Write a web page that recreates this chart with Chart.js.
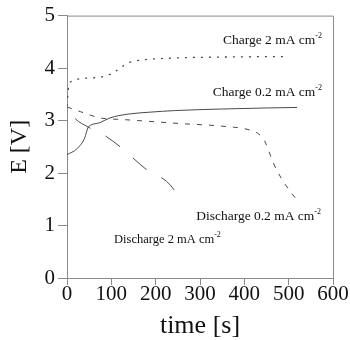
<!DOCTYPE html>
<html>
<head>
<meta charset="utf-8">
<script src="https://cdn.jsdelivr.net/npm/chart.js@4/dist/chart.umd.min.js"></script>
<style>
  html, body { margin: 0; padding: 0; background: #fff; }
  #wrap { width: 350px; height: 340px; }
</style>
</head>
<body>
<div id="wrap"><canvas id="chart"></canvas></div>
<script>
// time [s] / potential [V]
const charge2T = [0, 2, 5, 52, 97, 120, 135, 165, 239, 350, 492];
const charge2V = [3.28, 3.5, 3.72, 3.81, 3.88, 4.0, 4.09, 4.15, 4.19, 4.21, 4.22];

const charge02T = [0, 22, 40, 47, 53, 74, 97, 135, 187, 243, 350, 450, 519];
const charge02V = [2.35, 2.46, 2.67, 2.86, 2.91, 2.96, 3.05, 3.12, 3.16, 3.19, 3.22, 3.24, 3.25];

const discharge02T = [0, 30, 75, 125, 210, 260, 340, 413, 430, 440, 447, 456, 465, 476, 494, 519];
const discharge02V = [3.26, 3.17, 3.05, 3.02, 2.97, 2.94, 2.90, 2.82, 2.76, 2.68, 2.59, 2.40, 2.20, 2.01, 1.76, 1.48];

const discharge2T = [0, 18, 47, 86, 120, 151, 185, 217, 232, 246];
const discharge2V = [3.25, 3.04, 2.88, 2.71, 2.50, 2.27, 2.03, 1.89, 1.78, 1.63];

const xTicks = [0, 100, 200, 300, 400, 500, 600];
const yTicks = [0, 1, 2, 3, 4, 5];

const serif = "'Liberation Serif', 'Times New Roman', serif";
const axisGray = "#8a8a8a";
const lineGray = "#4a4a4a";

const pts = (ts, vs) => ts.map((t, i) => ({ x: t, y: vs[i] }));

// curve labels, anchored in data units (right edge, baseline)
const curveLabels = [
  { text: "Charge 2 mA cm", sup: "-2", x: 575, y: 4.45, size: 13.5 },
  { text: "Charge 0.2 mA cm", sup: "-2", x: 575, y: 3.47, size: 13.5 },
  { text: "Discharge 0.2 mA cm", sup: "-2", x: 573, y: 1.10, size: 13.5 },
  { text: "Discharge 2 mA cm", sup: "-2", x: 347, y: 0.66, size: 12.5 }
];

const framePlugin = {
  id: "frame",
  afterDraw(chart) {
    const { ctx, chartArea: a } = chart;
    ctx.save();
    ctx.strokeStyle = axisGray;
    ctx.lineWidth = 1;
    ctx.beginPath();
    ctx.moveTo(a.left, a.top + 0.5);
    ctx.lineTo(a.right + 0.5, a.top + 0.5);
    ctx.lineTo(a.right + 0.5, a.bottom);
    ctx.stroke();
    ctx.restore();
  }
};

const labelPlugin = {
  id: "curveLabels",
  afterDatasetsDraw(chart) {
    const { ctx, scales } = chart;
    ctx.save();
    ctx.fillStyle = "#111";
    ctx.textBaseline = "alphabetic";
    curveLabels.forEach(l => {
      const right = scales.x.getPixelForValue(l.x);
      const base = scales.y.getPixelForValue(l.y);
      const main = l.size + "px " + serif;
      const small = Math.round(l.size * 0.6) + "px " + serif;
      ctx.font = main;
      const w1 = ctx.measureText(l.text).width;
      ctx.font = small;
      const w2 = ctx.measureText(l.sup).width;
      const left = right - w1 - w2;
      ctx.font = main;
      ctx.fillText(l.text, left, base);
      ctx.font = small;
      ctx.fillText(l.sup, left + w1, base - 6);
    });
    ctx.restore();
  }
};

new Chart(document.getElementById("chart"), {
  type: "scatter",
  data: {
    datasets: [
      { label: "Charge 2", data: pts(charge2T, charge2V), showLine: true, borderColor: lineGray, borderWidth: 1.3, borderDash: [2, 6], pointRadius: 0, cubicInterpolationMode: "monotone" },
      { label: "Charge 0.2", data: pts(charge02T, charge02V), showLine: true, borderColor: lineGray, borderWidth: 1, pointRadius: 0, cubicInterpolationMode: "monotone" },
      { label: "Discharge 0.2", data: pts(discharge02T, discharge02V), showLine: true, borderColor: lineGray, borderWidth: 1, borderDash: [5, 7], pointRadius: 0, cubicInterpolationMode: "monotone" },
      { label: "Discharge 2", data: pts(discharge2T, discharge2V), showLine: true, borderColor: lineGray, borderWidth: 1, borderDash: [18, 17], borderDashOffset: 21, pointRadius: 0, cubicInterpolationMode: "monotone" }
    ]
  },
  options: {
    responsive: true,
    maintainAspectRatio: false,
    animation: false,
    layout: { padding: { top: 14, right: 17, left: 0, bottom: 0 } },
    plugins: { legend: { display: false }, tooltip: { enabled: false } },
    scales: {
      x: {
        type: "linear",
        min: 0,
        max: 600,
        afterBuildTicks: s => { s.ticks = xTicks.map(v => ({ value: v })); },
        afterFit: s => { s.height = 62; },
        grid: { drawOnChartArea: false, color: axisGray, tickLength: 7 },
        border: { color: axisGray },
        ticks: { color: "#111", font: { family: serif, size: 21 }, padding: -3, maxRotation: 0 },
        title: { display: true, text: "time [s]", color: "#111", font: { family: serif, size: 26, lineHeight: 1 }, padding: { top: 0, bottom: 1 } }
      },
      y: {
        min: 0,
        max: 5,
        afterBuildTicks: s => { s.ticks = yTicks.map(v => ({ value: v })); },
        afterFit: s => { s.width = 67; },
        grid: { drawOnChartArea: false, color: axisGray, tickLength: 9 },
        border: { color: axisGray },
        ticks: { color: "#111", font: { family: serif, size: 21 }, padding: 3 },
        title: { display: true, text: "E [V]", color: "#111", font: { family: serif, size: 24, lineHeight: 1 }, padding: { top: 8, bottom: 0 } }
      }
    }
  },
  plugins: [framePlugin, labelPlugin]
});
</script>
</body>
</html>
